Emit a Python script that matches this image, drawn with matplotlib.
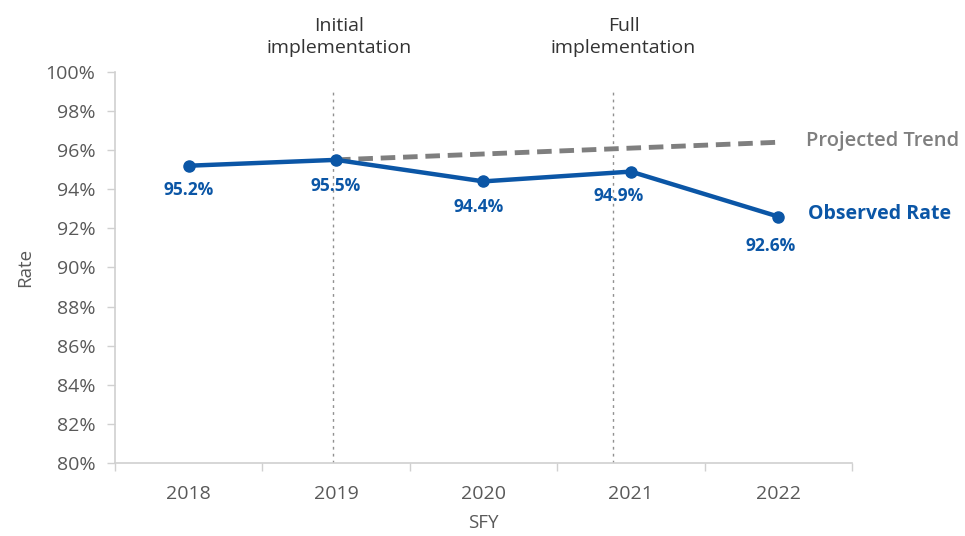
import matplotlib
matplotlib.use("Agg")
import matplotlib.pyplot as plt
from matplotlib.ticker import FixedLocator, NullFormatter

years = ["2018", "2019", "2020", "2021", "2022"]
observed = [95.2, 95.5, 94.4, 94.9, 92.6]
projected_years = ["2019", "2020", "2021", "2022"]
projected = [95.5, 95.8, 96.1, 96.4]
y_ticks = list(range(80, 101, 2))

BLUE = "#0B56A6"
GREY = "#7F7F7F"
TEXT = "#595959"
plt.rcParams["font.family"] = ["Open Sans", "DejaVu Sans"]

fig = plt.figure(figsize=(9.65, 5.36), dpi=100)
ax = fig.add_axes([0.119, 0.136, 0.764, 0.730])

x = list(range(len(years)))
px = [years.index(y) for y in projected_years]

ax.plot(px, projected, color=GREY, lw=3.5, dashes=(3, 1.6), zorder=2)
ax.plot(x, observed, color=BLUE, lw=3.2, marker="o", ms=8, zorder=3)

# implementation markers
for xv in (0.98, 2.88):
    ax.plot([xv, xv], [80, 99.1], color="#909090", lw=1, ls=(0, (2, 3)), zorder=1)
ax.text(1.02, 101.8, "Initial\nimplementation", ha="center", va="center",
        fontsize=14, color="#333333", linespacing=1.3, clip_on=False)
ax.text(2.95, 101.8, "Full\nimplementation", ha="center", va="center",
        fontsize=14, color="#333333", linespacing=1.3, clip_on=False)

# value labels
offsets = [(0, -1.25), (0, -1.35), (-0.03, -1.3), (-0.08, -1.25), (-0.05, -1.5)]
for xi, v, (dx, dy) in zip(x, observed, offsets):
    ax.text(xi + dx, v + dy, f"{v:.1f}%", ha="center", va="center",
            fontsize=12.5, fontweight="bold", color=BLUE)

ax.text(4.19, projected[-1] + 0.05, "Projected Trend", ha="left", va="center",
        fontsize=14.5, color=GREY, fontweight="semibold")
ax.text(4.2, 92.75, "Observed Rate", ha="left", va="center",
        fontsize=14, color=BLUE, fontweight="bold")

ax.set_xlim(-0.5, 4.5)
ax.set_ylim(80, 100)
ax.set_yticks(y_ticks)
ax.set_yticklabels([f"{t}%" for t in y_ticks])
ax.set_xticks(x)
ax.set_xticklabels(years)
ax.xaxis.set_minor_locator(FixedLocator([i - 0.5 for i in range(len(years) + 1)]))
ax.xaxis.set_minor_formatter(NullFormatter())
ax.tick_params(axis="x", which="major", length=0, pad=16, labelsize=14, colors=TEXT)
ax.tick_params(axis="x", which="minor", length=6, color="#D0D0D0", width=1)
ax.tick_params(axis="y", length=6, color="#D0D0D0", width=1, pad=8,
               labelsize=14, colors=TEXT)

for side in ("top", "right"):
    ax.spines[side].set_visible(False)
for side in ("left", "bottom"):
    ax.spines[side].set_color("#D0D0D0")
    ax.spines[side].set_linewidth(1.2)

ax.set_ylabel("Rate", fontsize=13.5, color=TEXT, labelpad=8)
ax.set_xlabel("SFY", fontsize=13.5, color=TEXT, labelpad=8)

fig.savefig("out.png", dpi=100)
